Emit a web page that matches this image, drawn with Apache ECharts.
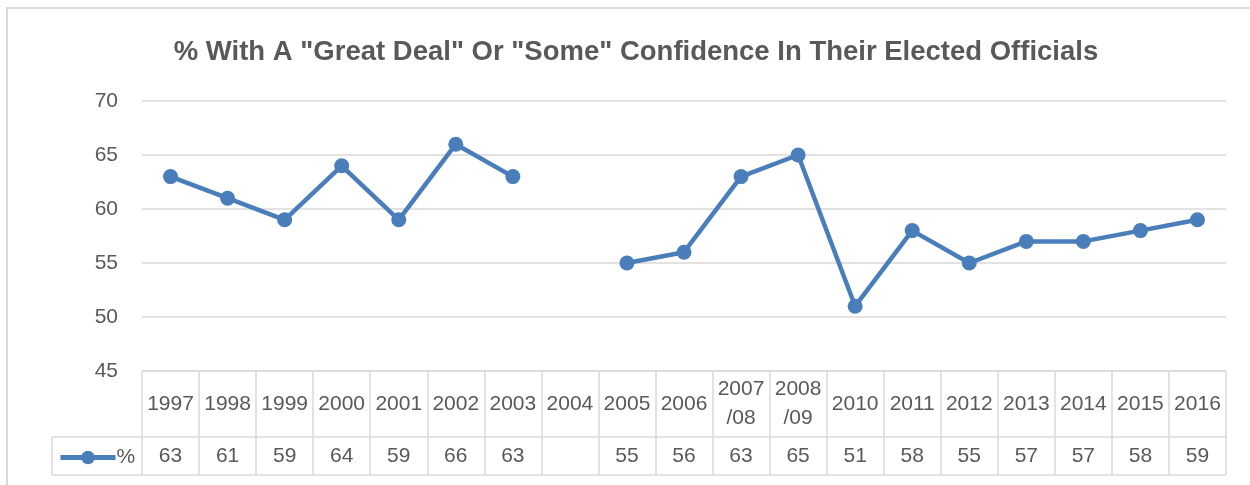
<!DOCTYPE html>
<html>
<head>
<meta charset="utf-8">
<script src="https://cdn.jsdelivr.net/npm/echarts@6/dist/echarts.min.js"></script>
<style>
  html, body { margin: 0; padding: 0; background: #fff; }
  #chart { width: 1250px; height: 485px; }
</style>
</head>
<body>
<div id="chart"></div>
<script>
// years (two survey periods are split onto two lines, as in the table)
var categories = ['1997', '1998', '1999', '2000', '2001', '2002', '2003', '2004', '2005', '2006',
    '2007\n/08', '2008\n/09', '2010', '2011', '2012', '2013', '2014', '2015', '2016'];
// % with a great deal or some confidence (no survey in 2004)
var values = [63, 61, 59, 64, 59, 66, 63, null, 55, 56, 63, 65, 51, 58, 55, 57, 57, 58, 59];
var yTicks = { min: 45, max: 70, step: 5 };

var textColor = '#595959';
var lineColor = '#d9d9d9';
var blue = '#4a7ebb';
var font = 'Liberation Sans';

var chart = echarts.init(document.getElementById('chart'));

var option = {
    animation: false,
    title: {
        text: '% With A "Great Deal" Or "Some" Confidence In Their Elected Officials',
        left: 631,
        textAlign: 'center',
        top: 33,
        textStyle: { color: textColor, fontSize: 27.5, fontWeight: 'bold', fontFamily: font }
    },
    legend: {
        left: 58,
        top: 447,
        padding: 0,
        itemWidth: 55,
        itemHeight: 17,
        itemGap: 4,
        data: ['%'],
        lineStyle: { width: 5 },
        textStyle: { color: textColor, fontSize: 21, fontFamily: font, padding: [0, 0, 0, -4] }
    },
    grid: [
        { left: 142, right: 24, top: 101, height: 270 },
        // value row of the data table
        { left: 142, right: 24, top: 437, height: 19 }
    ],
    xAxis: [
        {
            type: 'category',
            gridIndex: 0,
            data: categories,
            boundaryGap: true,
            axisLine: { show: true, lineStyle: { color: lineColor, width: 1.5 } },
            axisTick: { show: true, interval: 0, length: 104, lineStyle: { color: lineColor, width: 1.5 } },
            axisLabel: {
                interval: 0,
                color: textColor,
                fontSize: 21,
                fontFamily: font,
                lineHeight: 29,
                margin: 33,
                verticalAlign: 'middle'
            }
        },
        {
            type: 'category',
            gridIndex: 1,
            data: values.map(function (v) { return v == null ? '' : String(v); }),
            axisLine: { show: false },
            axisTick: { show: false },
            axisLabel: {
                interval: 0,
                color: textColor,
                fontSize: 21,
                fontFamily: font,
                margin: 0,
                verticalAlign: 'middle'
            }
        }
    ],
    yAxis: [
        {
            type: 'value',
            gridIndex: 0,
            min: yTicks.min,
            max: yTicks.max,
            interval: yTicks.step,
            axisLine: { show: false },
            axisTick: { show: false },
            splitLine: { lineStyle: { color: lineColor, width: 1.5 } },
            axisLabel: { color: textColor, fontSize: 21, fontFamily: font, margin: 24 }
        },
        { type: 'value', gridIndex: 1, show: false }
    ],
    series: [
        {
            name: '%',
            type: 'line',
            xAxisIndex: 0,
            yAxisIndex: 0,
            data: values,
            connectNulls: false,
            symbol: 'circle',
            symbolSize: 15,
            lineStyle: { color: blue, width: 4.5 },
            itemStyle: { color: blue }
        }
    ],
    graphic: [
        // chart frame
        { type: 'rect', shape: { x: 7, y: 8, width: 1400, height: 700 }, style: { fill: 'none', stroke: lineColor, lineWidth: 2 } },
        // data table horizontal rules and legend cell
        { type: 'line', shape: { x1: 52, y1: 437, x2: 1226, y2: 437 }, style: { stroke: lineColor, lineWidth: 1.5 } },
        { type: 'line', shape: { x1: 52, y1: 475, x2: 1226, y2: 475 }, style: { stroke: lineColor, lineWidth: 1.5 } },
        { type: 'line', shape: { x1: 52, y1: 437, x2: 52, y2: 475 }, style: { stroke: lineColor, lineWidth: 1.5 } }
    ]
};

chart.setOption(option);
</script>
</body>
</html>
